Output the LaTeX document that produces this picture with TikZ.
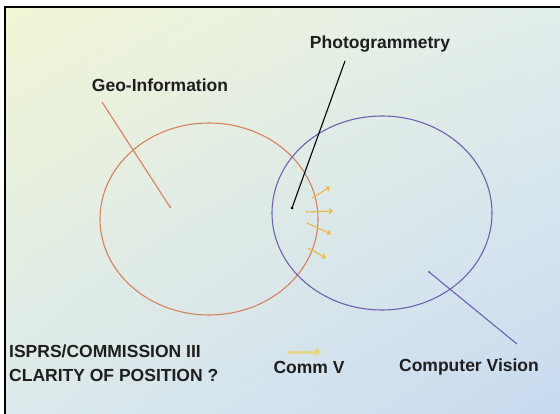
\documentclass[tikz,border=0pt]{standalone}
\usepackage{fontspec}
\setmainfont{Liberation Sans}
\usetikzlibrary{arrows.meta,shadings}
\definecolor{bgA}{RGB}{241,245,212}
\definecolor{bgB}{RGB}{226,238,236}
\definecolor{bgC}{RGB}{220,234,236}
\definecolor{bgD}{RGB}{200,218,240}
\definecolor{geoC}{RGB}{214,128,96}
\definecolor{cvC}{RGB}{112,96,176}
\definecolor{commC}{RGB}{238,182,60}
\definecolor{commL}{RGB}{230,214,140}
\definecolor{txt}{RGB}{30,30,30}
\tikzset{
  lbl/.style={font=\fontsize{17.5}{20}\selectfont\bfseries, text=txt, inner sep=0pt},
  geoline/.style={draw=geoC, line width=1.1pt},
  cvline/.style={draw=cvC, line width=1.1pt},
  leader/.style={line width=1.1pt},
  commarrow/.style={draw=commC, line width=1.1pt, -{Straight Barb[length=3pt,width=5pt]}},
  dotmark/.style={circle, fill, inner sep=0pt, minimum size=3pt},
}
\begin{document}
\begin{tikzpicture}[x=1pt,y=-1pt]
\useasboundingbox (0,0) rectangle (560,414);
\fill[white] (0,0) rectangle (560,414);
\shade[upper left=bgA, upper right=bgB, lower left=bgC, lower right=bgD] (5,7) rectangle (560,414);
\draw[line width=1.2pt] (5,414) -- (5,7) -- (560,7);
% circles
\draw[geoline] (209,219) ellipse [x radius=109, y radius=96];
\draw[cvline] (382,213) ellipse [x radius=110, y radius=97];
% labels
\node[lbl] (geo) at (160,85) {Geo-Information};
\node[lbl] (photo) at (380,44) {Photogrammetry};
\node[lbl, anchor=west] (isprs) at (9,351) {ISPRS/COMMISSION III};
\node[lbl, anchor=west] (clarity) at (9,375) {CLARITY OF POSITION ?};
\node[lbl] (comm) at (309,367) {Comm V};
\node[lbl] (cv) at (469,367) {Computer Vision};
% dots
\node[dotmark, fill=geoC, minimum size=2.5pt] (geodot) at (170,207) {};
\node[dotmark, fill=black] (photodot) at (292,208) {};
\node[dotmark, fill=cvC, minimum size=2.5pt] (cvdot) at (429,272) {};
% leader ends
\coordinate (geotop) at (102,102);
\coordinate (phototop) at (345,61);
\coordinate (cvend) at (517,344);
\draw[geoline] (geotop) -- (geodot.center);
\draw[leader] (phototop) -- (photodot.center);
\draw[cvline] (cvdot.center) -- (cvend);
% comm V arrows
\coordinate (a1s) at (312,198); \coordinate (a1e) at (330,187);
\coordinate (a2s) at (306,212); \coordinate (a2e) at (333,211);
\coordinate (a3s) at (307,223); \coordinate (a3e) at (331,234);
\coordinate (a4s) at (308,248); \coordinate (a4e) at (326,258);
\draw[commarrow] (a1s) -- (a1e);
\draw[commarrow] (a2s) -- (a2e);
\draw[commarrow] (a3s) -- (a3e);
\draw[commarrow] (a4s) -- (a4e);
% legend arrow
\coordinate (ls) at (288,352); \coordinate (le) at (321,352);
\draw[draw=commL, line width=3pt, -{Straight Barb[length=3pt,width=6pt]}] (ls) -- (le);
\end{tikzpicture}
\end{document}
